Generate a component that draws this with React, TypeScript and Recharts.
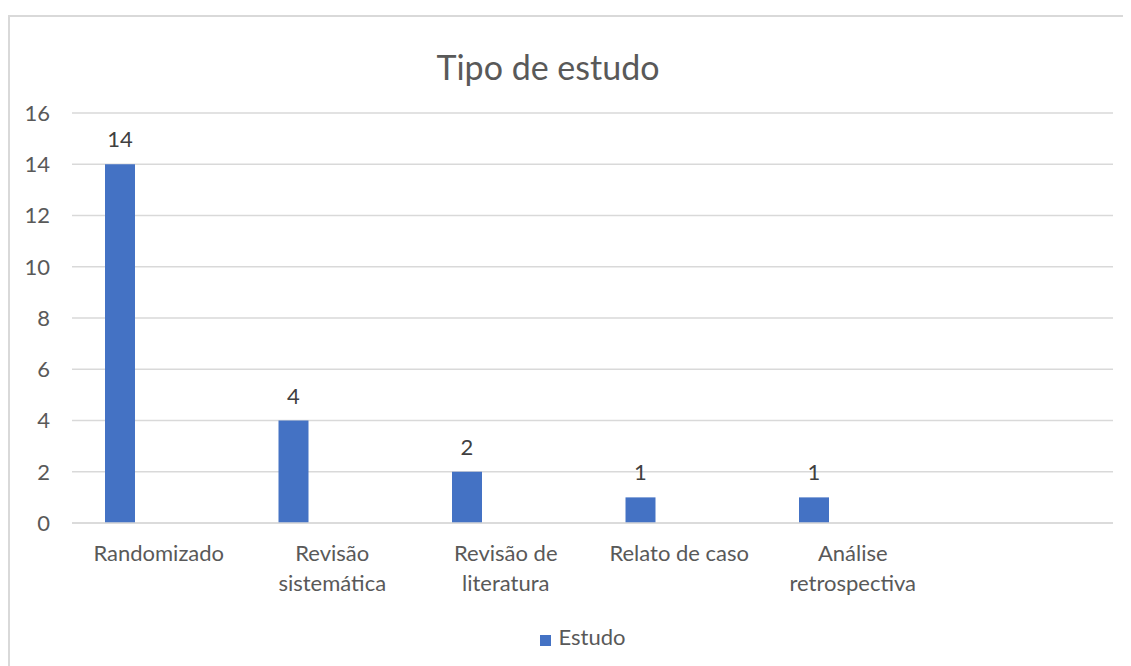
import { BarChart, Bar, XAxis, YAxis, CartesianGrid, Legend, LabelList } from 'recharts'

const categorias = ['Randomizado', 'Revisão sistemática', 'Revisão de literatura', 'Relato de caso', 'Análise retrospectiva', '']
const linhasRotulo = [['Randomizado'], ['Revisão', 'sistemática'], ['Revisão de', 'literatura'], ['Relato de caso'], ['Análise', 'retrospectiva'], []]
const estudo = [14, 4, 2, 1, 1, null]
const yTicks = [0, 2, 4, 6, 8, 10, 12, 14, 16]

const dados = categorias.map((c, i) => ({ nome: c, estudo: estudo[i], vazio1: null, vazio2: null }))

const FONTE = 'Lato, "Open Sans", sans-serif'
const CINZA = '#595959'

const TickCategoria = ({ x, y, payload, index }: any) => {
	const linhas = linhasRotulo[payload?.index ?? index] || []
	return (
		<text x={x} y={y} textAnchor="middle" fill={CINZA} fontSize={22} fontFamily={FONTE}>
			{linhas.map((l: string, i: number) => (
				<tspan key={i} x={x} dy={30}>
					{l}
				</tspan>
			))}
		</text>
	)
}

export default function App() {
	return (
		<div style={{ paddingTop: 7 }}>
			<div
				style={{
					position: 'relative',
					width: 1121,
					height: 649,
					borderTop: '2px solid #d9d9d9',
					borderLeft: '2px solid #d9d9d9',
					fontFamily: FONTE
				}}
			>
				<div
					style={{
						position: 'absolute',
						left: 538 - 10 - 200,
						width: 420,
						top: 67 - 17 - 22,
						textAlign: 'center',
						fontSize: 34,
						color: CINZA,
						lineHeight: '44px'
					}}
				>
					Tipo de estudo
				</div>
				<BarChart
					width={1121}
					height={649}
					data={dados}
					margin={{ top: 96, left: 0, right: 18, bottom: 23 }}
					barCategoryGap="19%"
					barGap={9}
				>
					<CartesianGrid vertical={false} stroke="#d9d9d9" strokeWidth={1.5} />
					<XAxis
						dataKey="nome"
						axisLine={{ stroke: '#d9d9d9', strokeWidth: 1.5 }}
						tickLine={false}
						height={80}
						interval={0}
						tick={<TickCategoria />}
					/>
					<YAxis
						width={62}
						domain={[0, 16]}
						ticks={yTicks}
						axisLine={false}
						tickLine={false}
						tickSize={0}
						tickMargin={22}
						tick={{ fill: CINZA, fontSize: 22, fontFamily: FONTE }}
					/>
					<Bar dataKey="estudo" name="Estudo" fill="#4472c4" barSize={30} isAnimationActive={false}>
						<LabelList dataKey="estudo" position="top" offset={17} fill="#404040" fontSize={22} fontFamily={FONTE} />
					</Bar>
					<Bar dataKey="vazio1" fill="#ed7d31" barSize={30} legendType="none" isAnimationActive={false} />
					<Bar dataKey="vazio2" fill="#a5a5a5" barSize={30} legendType="none" isAnimationActive={false} />
					<Legend
						verticalAlign="bottom"
						height={40}
						iconType="square"
						iconSize={11}
						wrapperStyle={{ left: 528, width: 100, top: 637 - 17 - 20, lineHeight: '40px' }}
						formatter={(v: string) => <span style={{ color: CINZA, fontSize: 22, marginLeft: 3 }}>{v}</span>}
					/>
				</BarChart>
			</div>
		</div>
	)
}
